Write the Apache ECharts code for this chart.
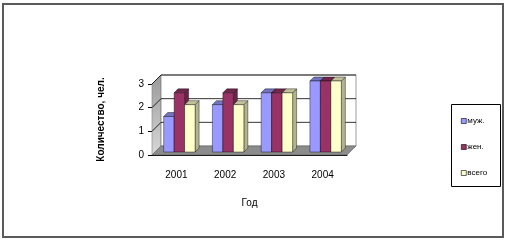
<!DOCTYPE html>
<html><head><meta charset="utf-8">
<script src="https://cdn.jsdelivr.net/npm/echarts@6/dist/echarts.min.js"></script>
<style>html,body{margin:0;padding:0;background:#fff}#c{width:509px;height:244px}</style>
</head><body><div id="c"></div>
<script>
var categories = ['2001', '2002', '2003', '2004'];
var muzh = [1.5, 2, 2.5, 3];
var zhen = [2.5, 2.5, 2.5, 3];
var vsego = [2, 2, 2.5, 3];
var seriesNames = ['муж.', 'жен.', 'всего'];
var yTicks = [0, 1, 2, 3];

var FONT = 'Arial, "Liberation Sans", sans-serif';
var DEPTH = 9;      // wall depth (px)
var MID = 3;        // bars sit this far back
var BD = 4;         // bar depth
var colors = [
  {front: '#9999FF', top: '#7373c0', side: '#6b6bb3'},
  {front: '#993366', top: '#73264d', side: '#6b2447'},
  {front: '#FFFFCC', top: '#c0c09a', side: '#b3b38f'}
];

function barRender(si) {
  return function (params, api) {
    var cat = api.value(0), val = api.value(1);
    var c = colors[si];
    var base = api.coord([cat, 0]);
    var topP = api.coord([cat, val]);
    var band = api.size([1, 0])[0];
    var bw = band * 0.215;
    var x0 = base[0] - 1.5 * bw + si * bw + MID;
    var yb = base[1] - MID, yt = topP[1] - MID;
    return {
      type: 'group',
      children: [
        {type: 'polygon', shape: {points: [[x0 + bw, yt], [x0 + bw + BD, yt - BD], [x0 + bw + BD, yb - BD], [x0 + bw, yb]]},
          style: {fill: c.side, stroke: '#000', lineWidth: 0.4}},
        {type: 'polygon', shape: {points: [[x0, yt], [x0 + bw, yt], [x0 + bw + BD, yt - BD], [x0 + BD, yt - BD]]},
          style: {fill: c.top, stroke: '#000', lineWidth: 0.4}},
        {type: 'rect', shape: {x: x0, y: yt, width: bw, height: yb - yt},
          style: {fill: c.front, stroke: '#000', lineWidth: 0.4}}
      ]
    };
  };
}

function wallRender(params, api) {
  var cs = params.coordSys;
  var x0 = cs.x, x1 = cs.x + cs.width;
  var y0 = api.coord([0, 0])[1];
  var children = [];
  var yTop = api.coord([0, yTicks[yTicks.length - 1]])[1];
  children.push({type: 'polygon', shape: {points: [[x0, y0], [x0 + DEPTH, y0 - DEPTH], [x0 + DEPTH, yTop - DEPTH], [x0, yTop]]},
    style: {fill: {type: 'linear', x: 0, y: 0, x2: 0, y2: 1, colorStops: [{offset: 0, color: '#9a9a9a'}, {offset: 1, color: '#d8d8d8'}]}, stroke: '#808080', lineWidth: 0.6}});
  children.push({type: 'rect', shape: {x: x0 + DEPTH, y: yTop - DEPTH, width: x1 - x0, height: y0 - yTop},
    style: {fill: '#ffffff', stroke: '#808080', lineWidth: 0.8}});
  children.push({type: 'polygon', shape: {points: [[x0, y0], [x1, y0], [x1 + DEPTH, y0 - DEPTH], [x0 + DEPTH, y0 - DEPTH]]},
    style: {fill: '#8c8c8c', stroke: '#606060', lineWidth: 0.6}});
  for (var i = 1; i < yTicks.length; i++) {
    var y = api.coord([0, yTicks[i]])[1];
    children.push({type: 'polyline', shape: {points: [[x0, y], [x0 + DEPTH, y - DEPTH], [x1 + DEPTH, y - DEPTH]]},
      style: {fill: null, stroke: '#000', lineWidth: 0.8}});
  }
  return {type: 'group', children: children};
}

var option = {
  animation: false,
  graphic: [
    {type: 'rect', shape: {x: 3, y: 4, width: 500, height: 233}, style: {fill: null, stroke: '#5a5a5a', lineWidth: 2}, z: 100},
    {type: 'rect', shape: {x: 451.5, y: 104.5, width: 49, height: 82}, style: {fill: '#fff', stroke: '#000', lineWidth: 1}, z: 0}
  ],
  legend: {
    orient: 'vertical', left: 461, top: 117, padding: 0, itemWidth: 5, itemHeight: 5, itemGap: 18,
    textStyle: {fontFamily: FONT, fontSize: 8, color: '#000', padding: [0, 0, 0, -4]},
    data: seriesNames.map(function (n, i) {
      return {name: n, icon: 'rect', itemStyle: {color: colors[i].front, borderColor: '#000', borderWidth: 0.6}};
    })
  },
  grid: {left: 152, top: 84, width: 195, height: 71},
  xAxis: {
    type: 'category', data: categories, name: 'Год', nameLocation: 'middle', nameGap: 43,
    nameTextStyle: {fontFamily: FONT, fontSize: 10, color: '#000'},
    axisLine: {lineStyle: {color: '#000', width: 1}},
    axisTick: {length: 4, lineStyle: {color: '#000'}},
    axisLabel: {fontFamily: FONT, fontSize: 10, color: '#000', margin: 15}
  },
  yAxis: {
    type: 'value', min: 0, max: 3, interval: 1,
    name: 'Количество, чел.', nameLocation: 'middle', nameGap: 46, nameRotate: 90,
    nameTextStyle: {fontFamily: FONT, fontSize: 10, fontWeight: 'bold', color: '#000'},
    axisLine: {show: true, lineStyle: {color: '#000', width: 1}},
    axisTick: {show: true, length: 4, lineStyle: {color: '#000'}},
    axisLabel: {fontFamily: FONT, fontSize: 10, color: '#000', margin: 8},
    splitLine: {show: false}
  },
  series: [
    {type: 'custom', name: '_walls', renderItem: wallRender, data: [[0, 0]], silent: true, z: 1}
  ].concat([muzh, zhen, vsego].map(function (arr, si) {
    return {
      type: 'custom', name: seriesNames[si], renderItem: barRender(si), z: 2,
      itemStyle: {color: colors[si].front},
      encode: {x: 0, y: 1},
      data: arr.map(function (v, i) { return [i, v]; })
    };
  }))
};
var chart = echarts.init(document.getElementById('c'), null, {renderer: 'canvas'});
chart.setOption(option);
</script></body></html>
